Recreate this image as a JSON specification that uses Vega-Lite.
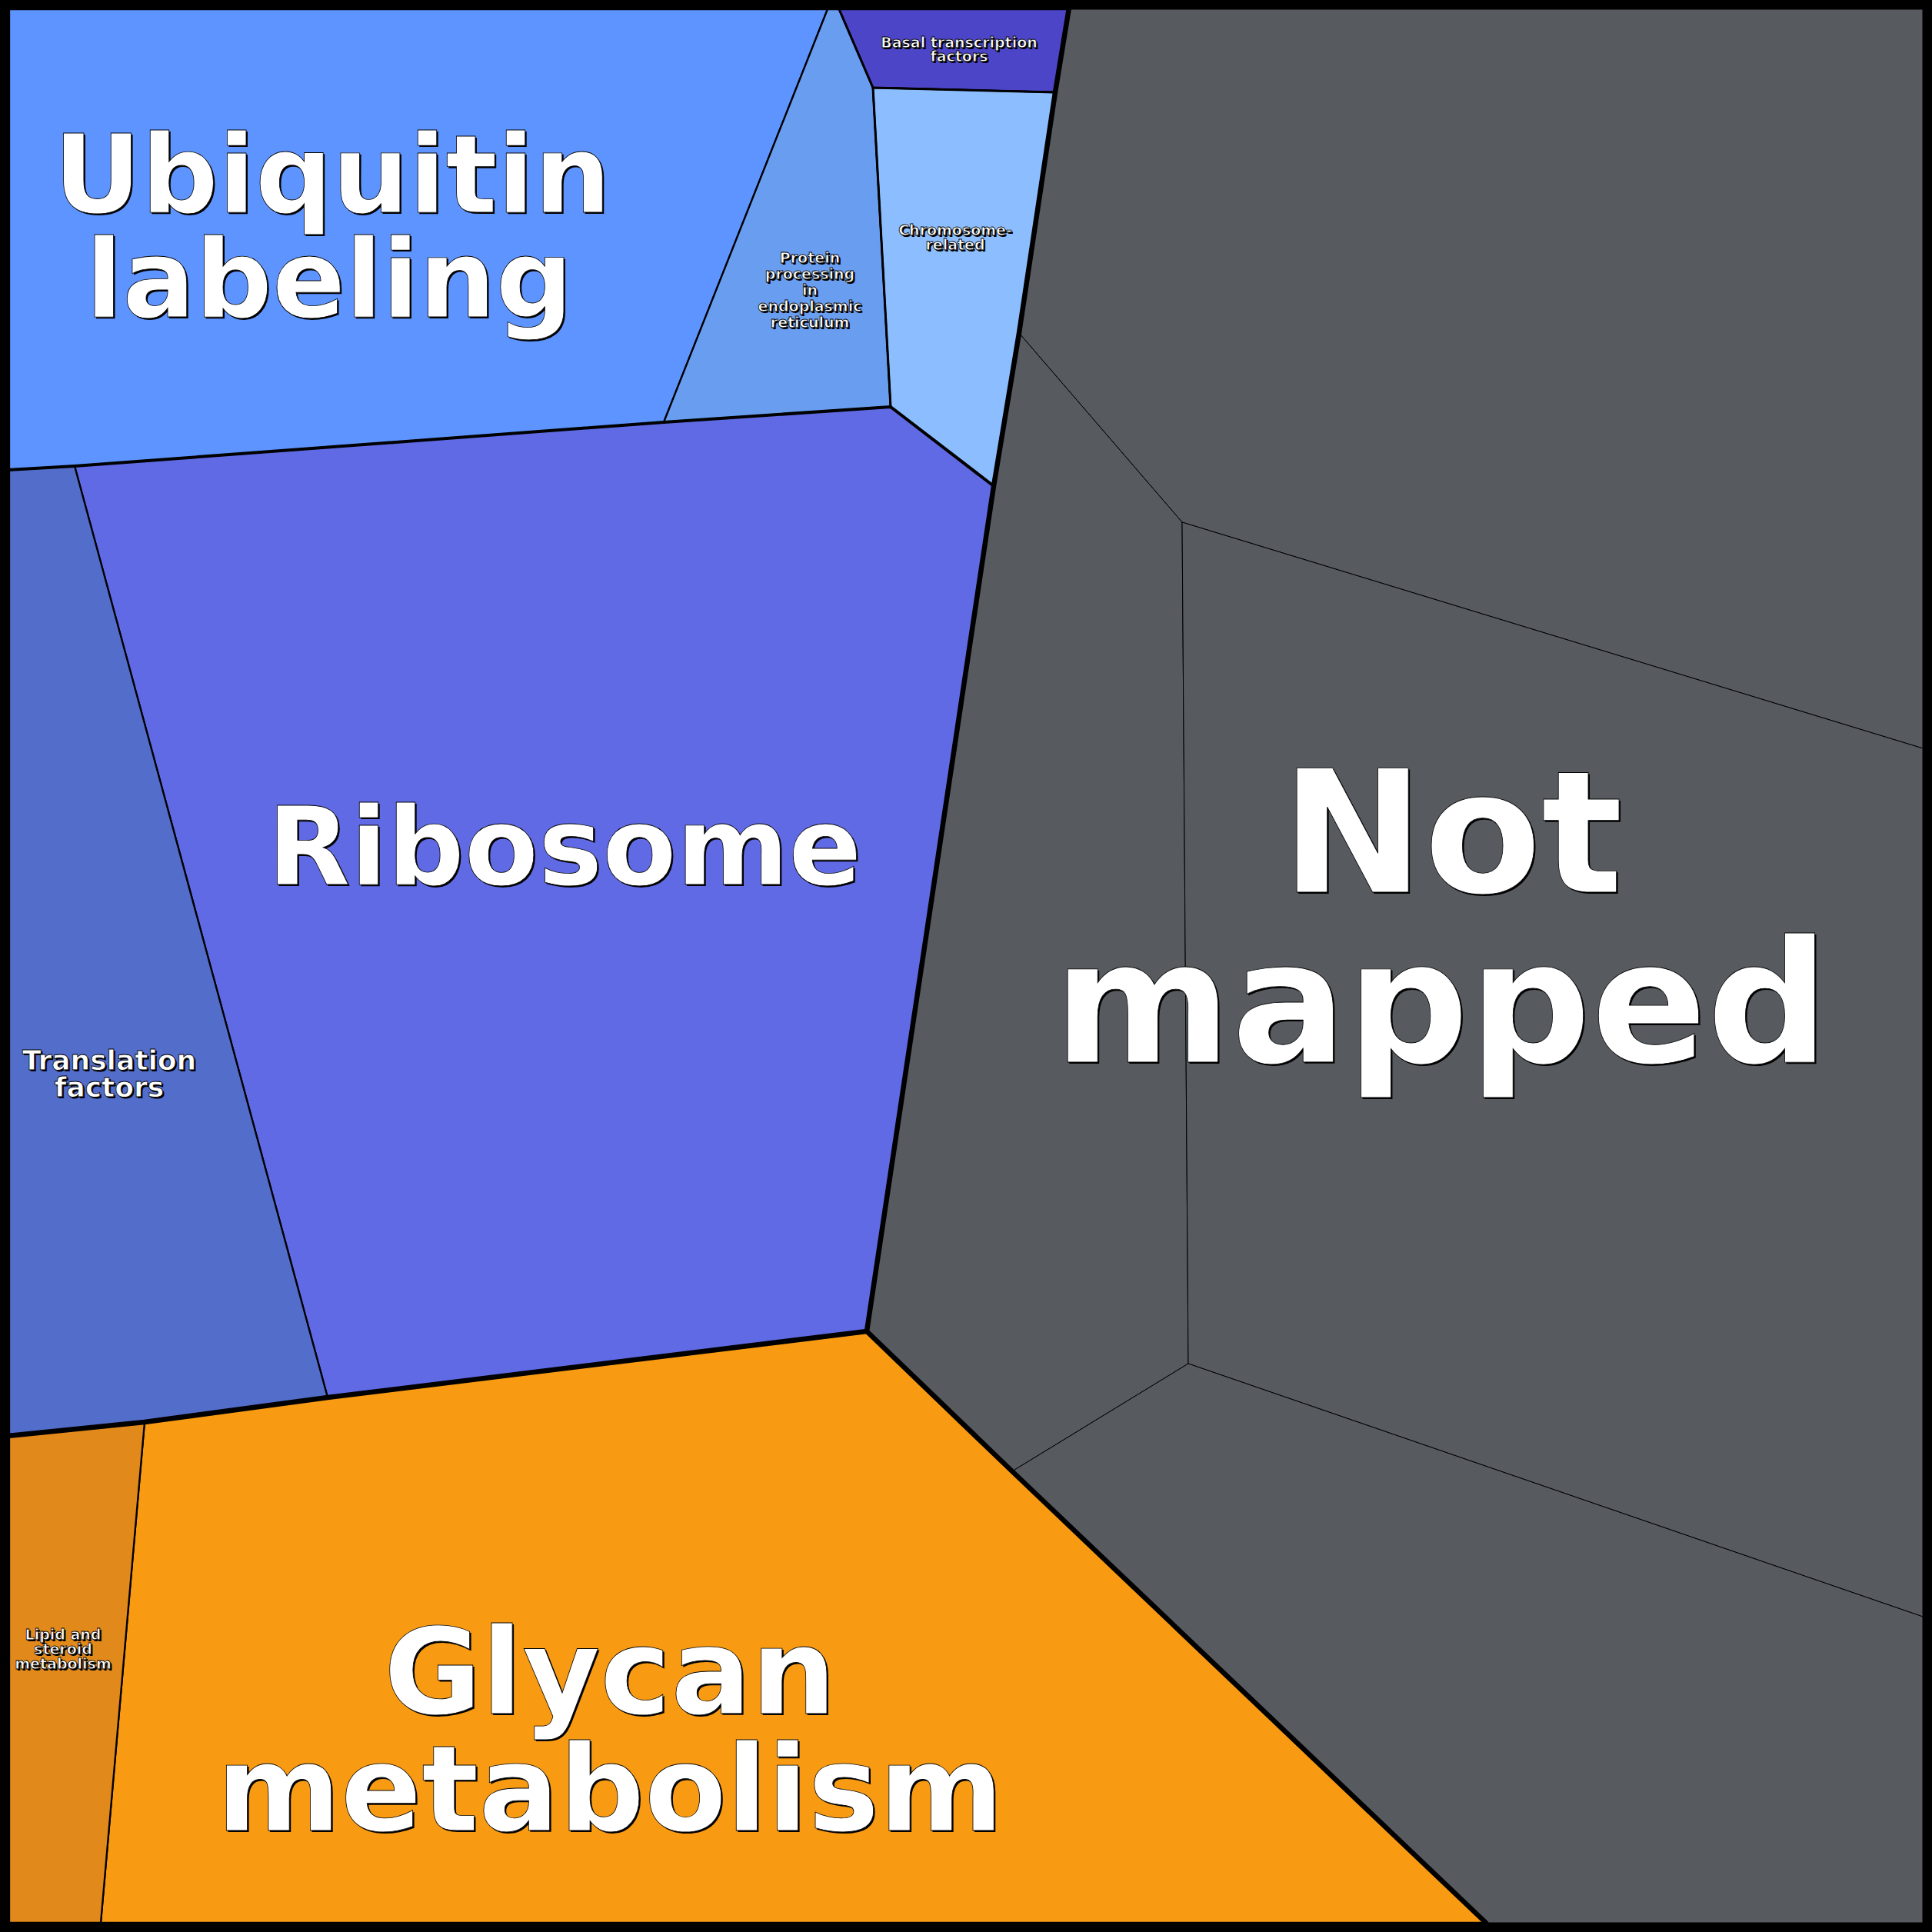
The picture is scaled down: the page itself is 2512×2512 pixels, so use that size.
{
  "$schema": "https://vega.github.io/schema/vega-lite/v6.json",
  "width": 2512,
  "height": 2512,
  "autosize": {"type": "fit", "contains": "padding"},
  "padding": 0,
  "background": "#000000",
  "config": {"view": {"stroke": null}},
  "datasets": {
    "cells": [
      {"cell": "Ubiquitin labeling", "group": "mapped", "order": 1, "x": 12, "y": 12},
      {"cell": "Ubiquitin labeling", "group": "mapped", "order": 2, "x": 1076, "y": 12},
      {"cell": "Ubiquitin labeling", "group": "mapped", "order": 3, "x": 863, "y": 549},
      {"cell": "Ubiquitin labeling", "group": "mapped", "order": 4, "x": 97, "y": 606},
      {"cell": "Ubiquitin labeling", "group": "mapped", "order": 5, "x": 12, "y": 611},
      {"cell": "Protein processing", "group": "mapped", "order": 1, "x": 1076, "y": 12},
      {"cell": "Protein processing", "group": "mapped", "order": 2, "x": 1091, "y": 12},
      {"cell": "Protein processing", "group": "mapped", "order": 3, "x": 1135, "y": 114},
      {"cell": "Protein processing", "group": "mapped", "order": 4, "x": 1158, "y": 529},
      {"cell": "Protein processing", "group": "mapped", "order": 5, "x": 863, "y": 549},
      {"cell": "Basal transcription factors", "group": "mapped", "order": 1, "x": 1091, "y": 12},
      {"cell": "Basal transcription factors", "group": "mapped", "order": 2, "x": 1390, "y": 12},
      {"cell": "Basal transcription factors", "group": "mapped", "order": 3, "x": 1372, "y": 120},
      {"cell": "Basal transcription factors", "group": "mapped", "order": 4, "x": 1135, "y": 114},
      {"cell": "Chromosome-related", "group": "mapped", "order": 1, "x": 1135, "y": 114},
      {"cell": "Chromosome-related", "group": "mapped", "order": 2, "x": 1372, "y": 120},
      {"cell": "Chromosome-related", "group": "mapped", "order": 3, "x": 1325, "y": 433},
      {"cell": "Chromosome-related", "group": "mapped", "order": 4, "x": 1292, "y": 632},
      {"cell": "Chromosome-related", "group": "mapped", "order": 5, "x": 1158, "y": 529},
      {"cell": "Ribosome", "group": "mapped", "order": 1, "x": 97, "y": 606},
      {"cell": "Ribosome", "group": "mapped", "order": 2, "x": 863, "y": 549},
      {"cell": "Ribosome", "group": "mapped", "order": 3, "x": 1158, "y": 529},
      {"cell": "Ribosome", "group": "mapped", "order": 4, "x": 1292, "y": 632},
      {"cell": "Ribosome", "group": "mapped", "order": 5, "x": 1127, "y": 1731},
      {"cell": "Ribosome", "group": "mapped", "order": 6, "x": 426, "y": 1817},
      {"cell": "Translation factors", "group": "mapped", "order": 1, "x": 12, "y": 611},
      {"cell": "Translation factors", "group": "mapped", "order": 2, "x": 97, "y": 606},
      {"cell": "Translation factors", "group": "mapped", "order": 3, "x": 426, "y": 1817},
      {"cell": "Translation factors", "group": "mapped", "order": 4, "x": 188, "y": 1849},
      {"cell": "Translation factors", "group": "mapped", "order": 5, "x": 12, "y": 1867},
      {"cell": "Glycan metabolism", "group": "mapped", "order": 1, "x": 188, "y": 1849},
      {"cell": "Glycan metabolism", "group": "mapped", "order": 2, "x": 426, "y": 1817},
      {"cell": "Glycan metabolism", "group": "mapped", "order": 3, "x": 1127, "y": 1731},
      {"cell": "Glycan metabolism", "group": "mapped", "order": 4, "x": 1316, "y": 1913},
      {"cell": "Glycan metabolism", "group": "mapped", "order": 5, "x": 1932, "y": 2500},
      {"cell": "Glycan metabolism", "group": "mapped", "order": 6, "x": 131, "y": 2500},
      {"cell": "Lipid and steroid metabolism", "group": "mapped", "order": 1, "x": 12, "y": 1867},
      {"cell": "Lipid and steroid metabolism", "group": "mapped", "order": 2, "x": 188, "y": 1849},
      {"cell": "Lipid and steroid metabolism", "group": "mapped", "order": 3, "x": 131, "y": 2500},
      {"cell": "Lipid and steroid metabolism", "group": "mapped", "order": 4, "x": 12, "y": 2500},
      {"cell": "Not mapped 1", "group": "unmapped", "order": 1, "x": 1390, "y": 12},
      {"cell": "Not mapped 1", "group": "unmapped", "order": 2, "x": 2500, "y": 12},
      {"cell": "Not mapped 1", "group": "unmapped", "order": 3, "x": 2500, "y": 973},
      {"cell": "Not mapped 1", "group": "unmapped", "order": 4, "x": 1537, "y": 679},
      {"cell": "Not mapped 1", "group": "unmapped", "order": 5, "x": 1325, "y": 433},
      {"cell": "Not mapped 1", "group": "unmapped", "order": 6, "x": 1372, "y": 120},
      {"cell": "Not mapped 2", "group": "unmapped", "order": 1, "x": 1325, "y": 433},
      {"cell": "Not mapped 2", "group": "unmapped", "order": 2, "x": 1537, "y": 679},
      {"cell": "Not mapped 2", "group": "unmapped", "order": 3, "x": 1545, "y": 1773},
      {"cell": "Not mapped 2", "group": "unmapped", "order": 4, "x": 1316, "y": 1913},
      {"cell": "Not mapped 2", "group": "unmapped", "order": 5, "x": 1127, "y": 1731},
      {"cell": "Not mapped 2", "group": "unmapped", "order": 6, "x": 1292, "y": 632},
      {"cell": "Not mapped 3", "group": "unmapped", "order": 1, "x": 1537, "y": 679},
      {"cell": "Not mapped 3", "group": "unmapped", "order": 2, "x": 2500, "y": 973},
      {"cell": "Not mapped 3", "group": "unmapped", "order": 3, "x": 2500, "y": 2102},
      {"cell": "Not mapped 3", "group": "unmapped", "order": 4, "x": 1545, "y": 1773},
      {"cell": "Not mapped 4", "group": "unmapped", "order": 1, "x": 1545, "y": 1773},
      {"cell": "Not mapped 4", "group": "unmapped", "order": 2, "x": 2500, "y": 2102},
      {"cell": "Not mapped 4", "group": "unmapped", "order": 3, "x": 2500, "y": 2500},
      {"cell": "Not mapped 4", "group": "unmapped", "order": 4, "x": 1932, "y": 2500},
      {"cell": "Not mapped 4", "group": "unmapped", "order": 5, "x": 1316, "y": 1913}
    ],
    "edges": [
      {"edge": "e1", "level": "d", "order": 1, "x": 1390, "y": 10},
      {"edge": "e1", "level": "d", "order": 2, "x": 1372, "y": 120},
      {"edge": "e1", "level": "d", "order": 3, "x": 1325, "y": 433},
      {"edge": "e1", "level": "d", "order": 4, "x": 1292, "y": 632},
      {"edge": "e1", "level": "d", "order": 5, "x": 1127, "y": 1731},
      {"edge": "e1", "level": "d", "order": 6, "x": 1316, "y": 1913},
      {"edge": "e1", "level": "d", "order": 7, "x": 1932, "y": 2500},
      {"edge": "e2", "level": "d", "order": 1, "x": 10, "y": 1867},
      {"edge": "e2", "level": "d", "order": 2, "x": 188, "y": 1849},
      {"edge": "e2", "level": "d", "order": 3, "x": 426, "y": 1817},
      {"edge": "e2", "level": "d", "order": 4, "x": 1127, "y": 1731},
      {"edge": "e3", "level": "c", "order": 1, "x": 10, "y": 611},
      {"edge": "e3", "level": "c", "order": 2, "x": 97, "y": 606},
      {"edge": "e3", "level": "c", "order": 3, "x": 863, "y": 549},
      {"edge": "e3", "level": "c", "order": 4, "x": 1158, "y": 529},
      {"edge": "e3", "level": "c", "order": 5, "x": 1292, "y": 632},
      {"edge": "e4", "level": "b", "order": 1, "x": 1091, "y": 12},
      {"edge": "e4", "level": "b", "order": 2, "x": 1135, "y": 114},
      {"edge": "e4", "level": "b", "order": 3, "x": 1372, "y": 120},
      {"edge": "e5", "level": "b", "order": 1, "x": 1135, "y": 114},
      {"edge": "e5", "level": "b", "order": 2, "x": 1158, "y": 529}
    ],
    "labels": [
      {"text": "Ubiquitin", "tier": "l", "x": 432, "y": 276},
      {"text": "labeling", "tier": "l", "x": 428, "y": 412},
      {"text": "Ribosome", "tier": "l", "x": 734, "y": 1150},
      {"text": "Glycan", "tier": "xl", "x": 793, "y": 2228},
      {"text": "metabolism", "tier": "xl", "x": 793, "y": 2380},
      {"text": "Not", "tier": "xxl", "x": 1888, "y": 1160},
      {"text": "mapped", "tier": "xxl", "x": 1874, "y": 1381},
      {"text": "Translation", "tier": "m", "x": 142, "y": 1391},
      {"text": "factors", "tier": "m", "x": 142, "y": 1426},
      {"text": "Basal transcription", "tier": "s", "x": 1247, "y": 62},
      {"text": "factors", "tier": "s", "x": 1247, "y": 80},
      {"text": "Chromosome-", "tier": "s", "x": 1242, "y": 306},
      {"text": "related", "tier": "s", "x": 1242, "y": 325},
      {"text": "Protein", "tier": "s", "x": 1053, "y": 342},
      {"text": "processing", "tier": "s", "x": 1053, "y": 363},
      {"text": "in", "tier": "s", "x": 1053, "y": 384},
      {"text": "endoplasmic", "tier": "s", "x": 1053, "y": 405},
      {"text": "reticulum", "tier": "s", "x": 1053, "y": 426},
      {"text": "Lipid and", "tier": "s", "x": 82, "y": 2132},
      {"text": "steroid", "tier": "s", "x": 82, "y": 2151},
      {"text": "metabolism", "tier": "s", "x": 82, "y": 2170}
    ]
  },
  "encoding": {
    "x": {"field": "x", "type": "quantitative", "scale": {"domain": [0, 2512], "nice": false, "zero": false}, "axis": null},
    "y": {"field": "y", "type": "quantitative", "scale": {"domain": [0, 2512], "nice": false, "zero": false, "reverse": true}, "axis": null}
  },
  "layer": [
    {
      "data": {"name": "cells"},
      "transform": [{"filter": "datum.group == 'mapped'"}],
      "mark": {"type": "line", "interpolate": "linear-closed", "stroke": "#000000", "strokeWidth": 2.3, "strokeJoin": "round"},
      "encoding": {
        "detail": {"field": "cell"},
        "order": {"field": "order", "type": "quantitative"},
        "fill": {"field": "cell", "type": "nominal", "legend": null,
          "scale": {"domain": ["Ubiquitin labeling", "Protein processing", "Basal transcription factors", "Chromosome-related", "Ribosome", "Translation factors", "Glycan metabolism", "Lipid and steroid metabolism"],
                    "range": ["#5E94FF", "#699DEF", "#4D45C8", "#8CBEFF", "#5F6AE4", "#536DCA", "#F89B13", "#E2891B"]}}
      }
    },
    {
      "data": {"name": "cells"},
      "transform": [{"filter": "datum.group == 'unmapped'"}],
      "mark": {"type": "line", "interpolate": "linear-closed", "stroke": "#000000", "strokeWidth": 1, "fill": "#575B60"},
      "encoding": {
        "detail": {"field": "cell"},
        "order": {"field": "order", "type": "quantitative"}
      }
    },
    {
      "data": {"name": "edges"},
      "mark": {"type": "line", "stroke": "#000000", "strokeJoin": "round", "strokeCap": "round"},
      "encoding": {
        "detail": {"field": "edge"},
        "order": {"field": "order", "type": "quantitative"},
        "strokeWidth": {"field": "level", "type": "ordinal", "legend": null, "scale": {"type": "ordinal", "domain": ["b", "c", "d"], "range": [3, 4, 6.5]}}
      }
    },
    {
      "data": {"name": "labels"},
      "mark": {"type": "text", "font": "DejaVu Sans", "fontWeight": "bold", "align": "center", "baseline": "alphabetic", "fill": "#000000", "dx": 2, "dy": 2},
      "encoding": {
        "text": {"field": "text"},
        "size": {"field": "tier", "type": "ordinal", "legend": null, "scale": {"type": "ordinal", "domain": ["s", "m", "l", "xl", "xxl"], "range": [19, 36, 140, 155, 222]}}
      }
    },
    {
      "data": {"name": "labels"},
      "mark": {"type": "text", "font": "DejaVu Sans", "fontWeight": "bold", "align": "center", "baseline": "alphabetic", "fill": "#FFFFFF", "stroke": "#000000", "strokeWidth": 0.8},
      "encoding": {
        "text": {"field": "text"},
        "size": {"field": "tier", "type": "ordinal", "legend": null, "scale": {"type": "ordinal", "domain": ["s", "m", "l", "xl", "xxl"], "range": [19, 36, 140, 155, 222]}}
      }
    }
  ]
}
